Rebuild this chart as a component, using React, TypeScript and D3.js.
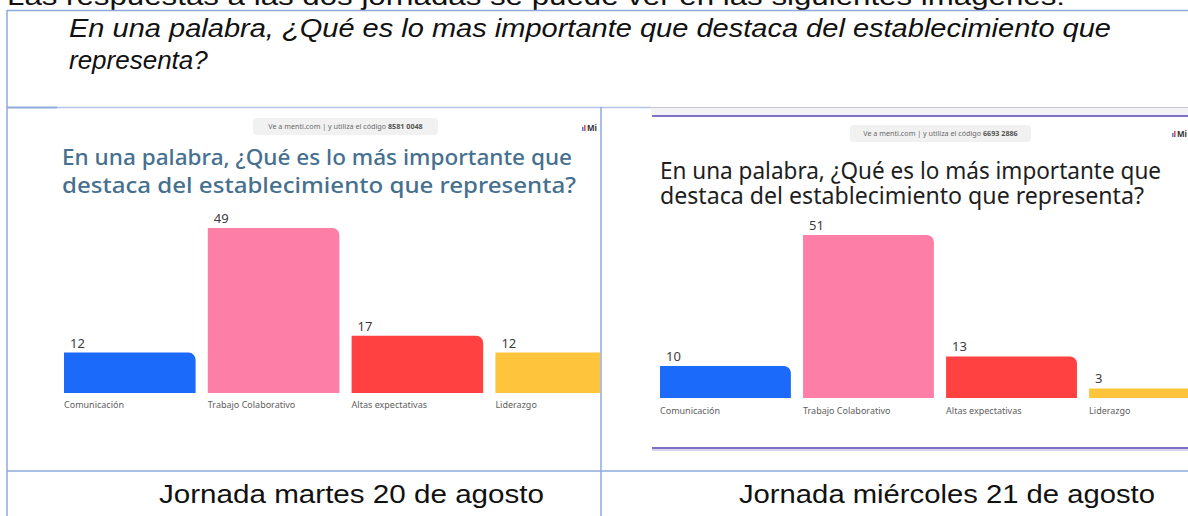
import React from "react";
import * as d3 from "d3";

const categories = ["Comunicación", "Trabajo Colaborativo", "Altas expectativas", "Liderazgo"];
const valuesMartes = [12, 49, 17, 12];
const valuesMiercoles = [10, 51, 13, 3];
const barColors = ["#1b6afa", "#fd7fa8", "#ff4141", "#fec43b"];
const introText = "Las respuestas a las dos jornadas  se puede ver en las siguientes imágenes:";
const questionLines = [
  "En una palabra, ¿Qué es lo mas importante que destaca del establecimiento que",
  "representa?",
];
const slideTitle = [
  "En una palabra, ¿Qué es lo más importante que",
  "destaca del establecimiento que representa?",
];
const codes = ["8581 0048", "6693 2886"];
const captions = ["Jornada martes 20 de agosto", "Jornada miércoles 21 de agosto"];

const W = 1188;
const H = 516;
const BORDER = "#8eaadb";

function barPath(x: number, y: number, w: number, h: number, r: number) {
  const rr = Math.min(r, h, w / 2);
  const p = d3.path();
  p.moveTo(x, y + h);
  p.lineTo(x, y);
  p.lineTo(x + w - rr, y);
  p.arcTo(x + w, y, x + w, y + rr, rr);
  p.lineTo(x + w, y + h);
  p.closePath();
  return p.toString();
}

type PanelProps = {
  id: string;
  clip: [number, number, number, number];
  values: number[];
  code: string;
  pill: [number, number, number, number];
  logo: [number, number];
  titleColor: string;
  titleWeight: number;
  titleSize: number;
  titleX: number;
  titleBase: [number, number];
  titleLen: [number, number];
  xRange: [number, number];
  yBase: number;
  yTop: number;
  labelBase: number;
};

function Panel(p: PanelProps) {
  const x = d3.scaleBand<string>().domain(categories).range(p.xRange).paddingInner(0.085).paddingOuter(0);
  const maxV = d3.max(p.values) as number;
  const y = d3.scaleLinear().domain([0, maxV]).range([p.yBase, p.yTop]);
  const [cx, cy, cw, ch] = p.clip;
  const [px, py, pw, ph] = p.pill;
  return (
    <g>
      <defs>
        <clipPath id={p.id}>
          <rect x={cx} y={cy} width={cw} height={ch} />
        </clipPath>
      </defs>
      <g clipPath={`url(#${p.id})`}>
        <rect x={cx} y={cy} width={cw} height={ch} fill="#ffffff" />
        <rect x={px} y={py} width={pw} height={ph} rx={4} fill="#f1f1f1" />
        <text
          x={px + pw / 2}
          y={py + ph / 2 + 2.6}
          textAnchor="middle"
          fontFamily="'Noto Sans', sans-serif"
          fontSize={7.2}
          fill="#6a6a6a"
        >
          Ve a menti.com | y utiliza el código{" "}
          <tspan fontWeight={700} fill="#555">
            {p.code}
          </tspan>
        </text>
        <g>
          <rect x={p.logo[0]} y={p.logo[1] - 4} width={1.6} height={4} fill="#5a7de8" />
          <rect x={p.logo[0] + 2} y={p.logo[1] - 6} width={1.6} height={6} fill="#e0506a" />
          <text
            x={p.logo[0] + 5}
            y={p.logo[1]}
            fontFamily="'Noto Sans', sans-serif"
            fontSize={8}
            fontWeight={700}
            fill="#333"
          >
            Mi
          </text>
        </g>
        {slideTitle.map((t, i) => (
          <text
            key={i}
            x={p.titleX}
            y={p.titleBase[i]}
            fontFamily="'Noto Sans', sans-serif"
            fontSize={p.titleSize}
            fontWeight={p.titleWeight}
            fill={p.titleColor}
            textLength={p.titleLen[i]}
            lengthAdjust="spacingAndGlyphs"
          >
            {t}
          </text>
        ))}
        {categories.map((c, i) => {
          const bx = x(c) as number;
          const bw = x.bandwidth();
          const top = y(p.values[i]);
          return (
            <g key={c}>
              <path d={barPath(bx, top, bw, p.yBase - top, 7)} fill={barColors[i]} />
              <text
                x={bx + 6}
                y={top - 5}
                fontFamily="'Noto Sans', sans-serif"
                fontSize={13}
                fill="#3c3c3c"
              >
                {p.values[i]}
              </text>
              <text
                x={bx}
                y={p.labelBase}
                fontFamily="'Noto Sans', sans-serif"
                fontSize={9}
                fill="#606060"
              >
                {c}
              </text>
            </g>
          );
        })}
      </g>
    </g>
  );
}

export default function App() {
  return (
    <svg
      width={W}
      height={H}
      viewBox={`0 0 ${W} ${H}`}
      style={{ position: "absolute", left: 0, top: 0, background: "#fff" }}
    >
      <rect x={0} y={0} width={W} height={H} fill="#ffffff" />
      {/* intro line, cut by the top edge */}
      <text
        x={7}
        y={5}
        fontFamily="'Liberation Sans', Arial, sans-serif"
        fontSize={26}
        fill="#111"
        textLength={1058}
        lengthAdjust="spacingAndGlyphs"
      >
        {introText}
      </text>
      {/* question row */}
      {questionLines.map((t, i) => (
        <text
          key={i}
          x={69}
          y={i === 0 ? 37 : 69}
          fontFamily="'Liberation Sans', Arial, sans-serif"
          fontStyle="italic"
          fontSize={26}
          fill="#111"
          textLength={i === 0 ? 1042 : undefined}
          lengthAdjust="spacingAndGlyphs"
        >
          {t}
        </text>
      ))}

      <Panel
        id="clipL"
        clip={[57, 108, 543, 337]}
        values={valuesMartes}
        code={codes[0]}
        pill={[253, 118, 185, 17]}
        logo={[582, 131]}
        titleColor="#46708f"
        titleWeight={500}
        titleSize={22}
        titleX={62}
        titleBase={[165, 193]}
        titleLen={[510, 514]}
        xRange={[64, 627]}
        yBase={393}
        yTop={228}
        labelBase={408}
      />

      <Panel
        id="clipR"
        clip={[651, 108, 537, 342]}
        values={valuesMiercoles}
        code={codes[1]}
        pill={[850, 125, 181, 17]}
        logo={[1172, 137]}
        titleColor="#1e1e1e"
        titleWeight={400}
        titleSize={23}
        titleX={660}
        titleBase={[179, 204]}
        titleLen={[501, 484]}
        xRange={[660, 1220]}
        yBase={398}
        yTop={235}
        labelBase={414}
      />
      {/* right screenshot frame */}
      <rect x={651} y={108} width={537} height={7} fill="#f3f3f6" />
      <line x1={651} x2={W} y1={107.5} y2={107.5} stroke="#c9c9d6" strokeWidth={1} />
      <line x1={652} x2={W} y1={116} y2={116} stroke="#7f6fc4" strokeWidth={2} />
      <line x1={652} x2={W} y1={448} y2={448} stroke="#7f6fc4" strokeWidth={2} />
      <line x1={652} x2={W} y1={450} y2={450} stroke="#d8d4ee" strokeWidth={2} />

      {/* table borders */}
      <line x1={7} x2={W} y1={10.5} y2={10.5} stroke={BORDER} strokeWidth={1.5} />
      <line x1={7} x2={7} y1={10} y2={H} stroke={BORDER} strokeWidth={1.5} />
      <line x1={7} x2={57} y1={107.5} y2={107.5} stroke={BORDER} strokeWidth={2} />
      <line x1={57} x2={651} y1={107.5} y2={107.5} stroke="#b3c5e6" strokeWidth={1.5} />
      <line x1={601} x2={601} y1={107} y2={H} stroke={BORDER} strokeWidth={1.5} />
      <line x1={7} x2={W} y1={471} y2={471} stroke={BORDER} strokeWidth={1.5} />

      {captions.map((c, i) => (
        <text
          key={c}
          x={i === 0 ? 159 : 739}
          y={503}
          fontFamily="'Liberation Sans', Arial, sans-serif"
          fontSize={26}
          fill="#111"
          textLength={i === 0 ? 385 : 416}
          lengthAdjust="spacingAndGlyphs"
        >
          {c}
        </text>
      ))}
    </svg>
  );
}
